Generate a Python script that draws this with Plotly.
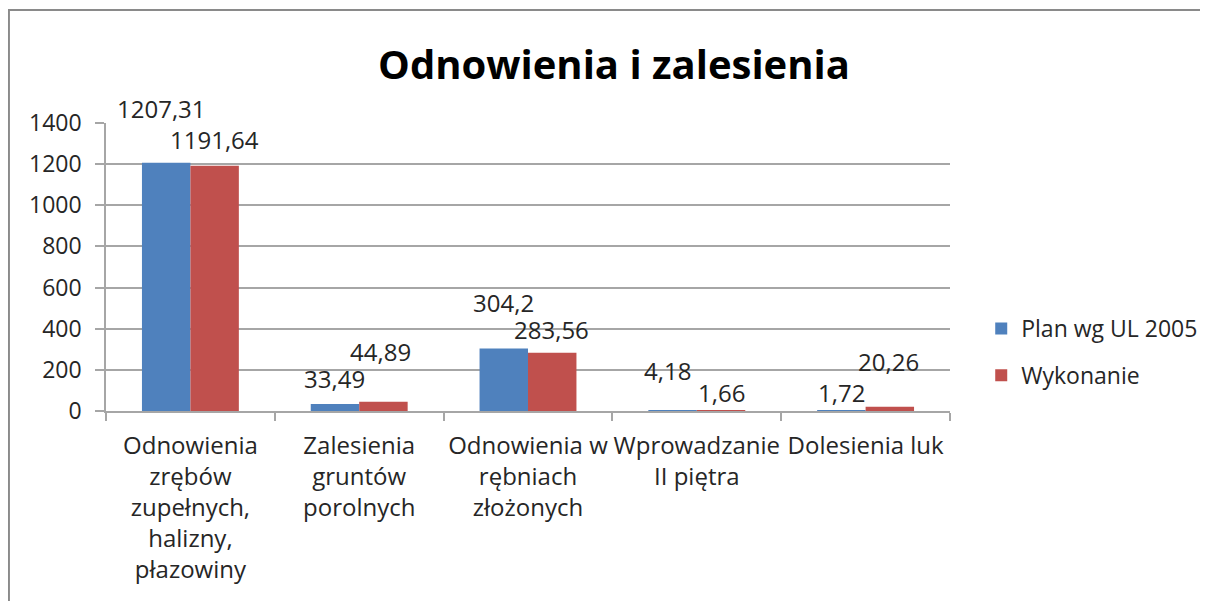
import plotly.graph_objects as go

categories = [
    "Odnowienia<br>zrębów<br>zupełnych,<br>halizny,<br>płazowiny",
    "Zalesienia<br>gruntów<br>porolnych",
    "Odnowienia w<br>rębniach<br>złożonych",
    "Wprowadzanie<br>II piętra",
    "Dolesienia luk",
]
series_names = ["Plan wg UL 2005", "Wykonanie"]
plan_values = [1207.31, 33.49, 304.2, 4.18, 1.72]
wyk_values = [1191.64, 44.89, 283.56, 1.66, 20.26]
y_ticks = [0, 200, 400, 600, 800, 1000, 1200, 1400]

# label placement offsets (pixels): (dx, dy) relative to bar top centre
plan_offsets = [(-5, 54), (0, 26), (0, 46), (-5, 40), (0, 18)]
wyk_offsets = [(0, 26), (-3, 50), (-1, 23), (0, 18), (-1, 45)]

FONT = "Open Sans"
BLUE = "#4F81BD"
RED = "#C0504D"
TXT = "#262626"
GRID = "#a6a6a6"

fig = go.Figure()
fig.add_trace(go.Bar(x=categories, y=plan_values, name=series_names[0],
                     marker=dict(color=BLUE, line=dict(width=0)), legendgroup="a"))
fig.add_trace(go.Bar(x=categories, y=wyk_values, name=series_names[1],
                     marker=dict(color=RED, line=dict(width=0)), legendgroup="b"))

def fmt(v):
    s = ("%.2f" % v).rstrip("0").rstrip(".")
    return s.replace(".", ",")

BAR_HALF = 24.3
annotations = []
for vals, offs, side in [(plan_values, plan_offsets, -1), (wyk_values, wyk_offsets, 1)]:
    for c, v, (dx, dy) in zip(categories, vals, offs):
        annotations.append(dict(
            x=c, y=v, xref="x", yref="y", text=fmt(v), showarrow=False,
            xanchor="center", yanchor="middle",
            xshift=side * BAR_HALF + dx, yshift=dy,
            font=dict(family=FONT, size=24, color=TXT)))

fig.update_layout(
    width=1200, height=593,
    margin=dict(l=98, r=258, t=115, b=190, autoexpand=False),
    paper_bgcolor="white", plot_bgcolor="white",
    barmode="group", bargap=0.426, bargroupgap=0,
    title=dict(text="<b>Odnowienia i zalesienia</b>", x=606 / 1200, xanchor="center",
               y=1 - 57 / 593, yanchor="middle",
               font=dict(family=FONT, size=40, color="black")),
    font=dict(family=FONT, size=23, color=TXT),
    legend=dict(x=1.037, y=0.205, xanchor="left", yanchor="middle",
                font=dict(family=FONT, size=23, color=TXT),
                tracegroupgap=14, bgcolor="rgba(0,0,0,0)"),
    annotations=annotations,
    shapes=[
        dict(type="line", xref="paper", yref="paper", x0=-0.121, x1=1.306,
             y0=1.392, y1=1.392, line=dict(color="#8a8a8a", width=2)),
        dict(type="line", xref="paper", yref="paper", x0=-0.115, x1=-0.115,
             y0=1.392, y1=-0.7, line=dict(color="#8a8a8a", width=2)),
    ],
)
fig.update_xaxes(showline=True, linecolor=GRID, linewidth=1.5, automargin=False,
                 tickangle=0,
                 ticks="outside", tickson="boundaries", ticklen=8, tickcolor=GRID,
                 tickwidth=1.5, tickfont=dict(family=FONT, size=24, color=TXT),
                 ticklabelstandoff=12, showgrid=False)
fig.update_yaxes(range=[0, 1400], tickvals=y_ticks, showgrid=True, gridcolor=GRID,
                 gridwidth=1.5, showline=True, linecolor=GRID, linewidth=1.5,
                 automargin=False, ticklabelstandoff=9,
                 ticks="outside", ticklen=9, tickcolor=GRID, tickwidth=1.5,
                 tickfont=dict(family=FONT, size=23, color=TXT), zeroline=False)

fig.write_html("out.html")
